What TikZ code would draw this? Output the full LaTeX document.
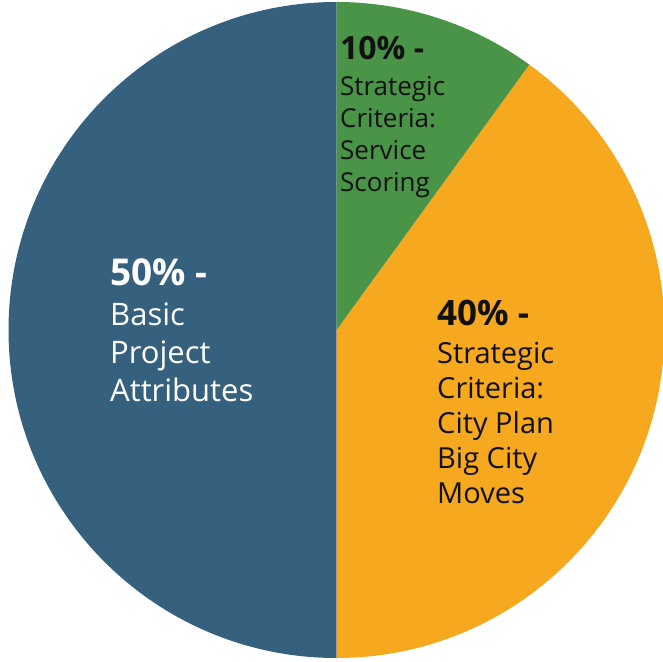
\documentclass[tikz,border=0pt]{standalone}
\usepackage{fontspec}
\setmainfont{Open Sans}
\definecolor{pieblue}{HTML}{35617F}
\definecolor{piegreen}{HTML}{4A9447}
\definecolor{pieorange}{HTML}{F6A81E}
\definecolor{txtdark}{HTML}{111111}
\tikzset{
  lbl/.style={anchor=base west, inner sep=0pt, align=left}
}
\begin{document}
\begin{tikzpicture}[x=1pt,y=1pt]
\useasboundingbox (0,0) rectangle (663,661);
\coordinate (c) at (336.5,331);
\fill[pieblue] (c) -- ++(90:328) arc[start angle=90,end angle=270,radius=328] -- cycle;
\fill[pieorange] (c) -- ++(-90:328) arc[start angle=-90,end angle=54,radius=328] -- cycle;
\fill[piegreen] (c) -- ++(54:328) arc[start angle=54,end angle=90,radius=328] -- cycle;
\node[lbl, text=white] (blue) at (110,375) {%
  \fontsize{31}{38}\selectfont
  \begin{tabular}[t]{@{}l@{}}
  {\fontsize{37}{38}\selectfont\bfseries 50\% -}\\[2pt]
  Basic\\
  Project\\
  Attributes
  \end{tabular}};
\node[lbl, text=txtdark] (green) at (340,601) {%
  \fontsize{26}{32}\selectfont
  \begin{tabular}[t]{@{}l@{}}
  {\fontsize{32}{32}\selectfont\bfseries 10\% -}\\[4pt]
  Strategic\\
  Criteria:\\
  Service\\
  Scoring
  \end{tabular}};
\node[lbl, text=txtdark] (orange) at (437,335) {%
  \fontsize{29}{35}\selectfont
  \begin{tabular}[t]{@{}l@{}}
  {\fontsize{35}{35}\selectfont\bfseries 40\% -}\\[3pt]
  Strategic\\
  Criteria:\\
  City Plan\\
  Big City\\
  Moves
  \end{tabular}};
\end{tikzpicture}
\end{document}
